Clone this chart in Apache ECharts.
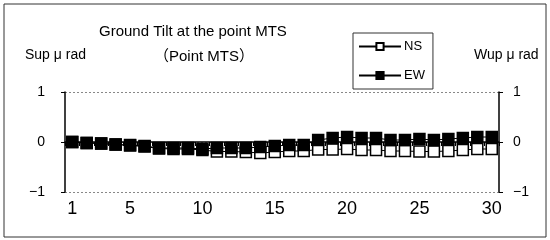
<!DOCTYPE html>
<html>
<head>
<meta charset="utf-8">
<script src="https://cdn.jsdelivr.net/npm/echarts@6/dist/echarts.min.js"></script>
<style>
  html, body { margin: 0; padding: 0; background: #fff; }
  #tiltChart { width: 550px; height: 240px; }
</style>
</head>
<body>
<div id="tiltChart"></div>
<script>
// 日付 (1〜30)
const days = [];
for (let d = 1; d <= 30; d++) days.push(String(d));
// 南北成分
const nsValues = [0, -0.02, -0.03, -0.05, -0.07, -0.09, -0.13, -0.14, -0.14, -0.16,
  -0.19, -0.19, -0.2, -0.22, -0.2, -0.18, -0.18, -0.15, -0.15, -0.14,
  -0.16, -0.16, -0.18, -0.18, -0.19, -0.19, -0.18, -0.16, -0.14, -0.14];
// 東西成分
const ewValues = [0, -0.02, -0.03, -0.05, -0.06, -0.08, -0.12, -0.12, -0.12, -0.14,
  -0.12, -0.12, -0.12, -0.1, -0.08, -0.06, -0.06, 0.04, 0.08, 0.1,
  0.08, 0.08, 0.04, 0.04, 0.06, 0.04, 0.06, 0.08, 0.1, 0.1];
const shownDays = ['1', '5', '10', '15', '20', '25', '30'];
const yTickLabels = { '1': '1', '0': '0', '-1': '\u22121' };

const font = '"Liberation Sans", "Noto Sans CJK JP", sans-serif';
const chart = echarts.init(document.getElementById('tiltChart'));

const yAxisBase = {
  type: 'value',
  min: -1,
  max: 1,
  interval: 1,
  axisLine: { show: true, lineStyle: { color: '#000', width: 1.5 } },
  axisTick: { show: true, length: 4, lineStyle: { color: '#000' } },
  axisLabel: {
    color: '#000',
    fontSize: 14,
    fontFamily: font,
    formatter: function (v) { return yTickLabels[String(v)]; }
  }
};

const option = {
  animation: false,
  textStyle: { fontFamily: font },
  graphic: [
    {
      type: 'rect',
      shape: { x: 4, y: 4, width: 542, height: 233 },
      style: { fill: 'none', stroke: '#333', lineWidth: 1 },
      silent: true
    },
    {
      type: 'text', left: 99, top: 24,
      style: { text: 'Ground Tilt at the point MTS', fill: '#000', font: '15px ' + font }
    },
    {
      type: 'text', left: 154, top: 49,
      style: { text: '\uff08Point MTS\uff09', fill: '#000', font: '15px ' + font }
    },
    {
      type: 'text', left: 25, top: 48,
      style: { text: 'Sup \u03bc rad', fill: '#000', font: '14px ' + font }
    },
    {
      type: 'text', left: 474, top: 48,
      style: { text: 'Wup \u03bc rad', fill: '#000', font: '14px ' + font }
    }
  ],
  legend: {
    orient: 'vertical',
    left: 353,
    top: 33,
    padding: [7, 8, 7, 5],
    itemWidth: 42,
    itemHeight: 9,
    itemGap: 16,
    borderColor: '#333',
    borderWidth: 1,
    textStyle: { color: '#000', fontSize: 13, fontFamily: font, padding: [0, 0, 0, -2] },
    data: ['NS', 'EW']
  },
  grid: { left: 65, right: 51, top: 92, bottom: 48 },
  xAxis: {
    type: 'category',
    data: days,
    boundaryGap: true,
    axisLine: { lineStyle: { color: '#000', width: 1.5 } },
    axisTick: { show: true, length: 4, interval: 0, lineStyle: { color: '#000' } },
    axisLabel: {
      color: '#000',
      fontSize: 18,
      fontFamily: font,
      margin: 8,
      interval: function (idx, val) { return shownDays.indexOf(val) !== -1; }
    },
    splitLine: { show: false }
  },
  yAxis: [
    Object.assign({}, yAxisBase, {
      position: 'left',
      axisLabel: Object.assign({}, yAxisBase.axisLabel, { margin: 20 }),
      splitLine: { show: true, lineStyle: { color: '#888', type: [2, 2], width: 1 } }
    }),
    Object.assign({}, yAxisBase, {
      position: 'right',
      axisLabel: Object.assign({}, yAxisBase.axisLabel, { margin: 14 }),
      splitLine: { show: false }
    })
  ],
  series: [
    {
      name: 'NS',
      type: 'line',
      data: nsValues,
      symbol: 'rect',
      symbolSize: 11,
      showSymbol: true,
      showAllSymbol: true,
      lineStyle: { color: '#000', width: 1 },
      itemStyle: { color: '#fff', borderColor: '#000', borderWidth: 1.5 }
    },
    {
      name: 'EW',
      type: 'line',
      data: ewValues,
      symbol: 'rect',
      symbolSize: 11,
      showSymbol: true,
      showAllSymbol: true,
      lineStyle: { color: '#000', width: 1 },
      itemStyle: { color: '#000', borderColor: '#000', borderWidth: 1.5 }
    }
  ]
};
chart.setOption(option);
</script>
</body>
</html>
